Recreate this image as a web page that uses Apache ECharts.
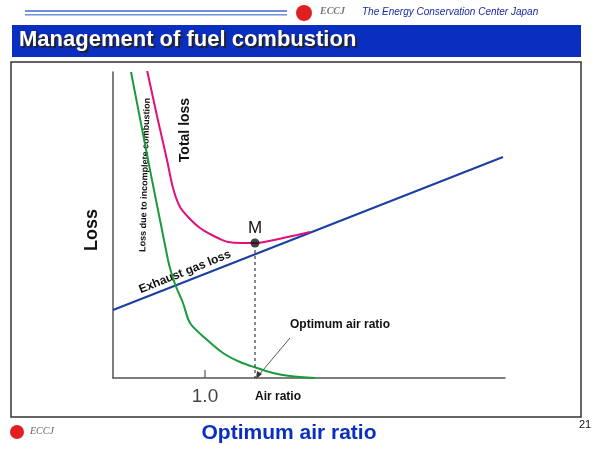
<!DOCTYPE html>
<html><head><meta charset="utf-8">
<script src="https://cdn.jsdelivr.net/npm/echarts@6/dist/echarts.min.js"></script>
<style>html,body{margin:0;padding:0;background:#fff}#c{width:600px;height:450px}</style>
</head><body><div id="c"></div>
<script>
// Data in chart units (x: air ratio scale, y: loss scale)
const exhaustLoss = [[0,68],[390,221]];
const incompleteLoss = [[18,306],[55,118],[62,94],[70,75],[77,55],[92,40],[110,25],[127,16],[144,10],[160,5],[177,2],[202,0]];
const totalLoss = [[34,308],[44,262],[54,218],[60,190],[67,171],[77,159],[87,150],[97,144],[107,139],[115,136],[128,135],[142,135],[156,137],[170,140],[184,143],[197,146]];
const optimumPoint = [[142,135]];
const optimumDrop = [[142,128],[142,0]];
const xTicks = [92];
const xTickLabels = ['1.0'];

const chart = echarts.init(document.getElementById('c'));
const F = 'Arial, Liberation Sans, sans-serif';
chart.setOption({
  animation:false,
  grid:{left:113,right:95,top:72,bottom:72},
  xAxis:{type:'value',min:0,max:392,axisLine:{lineStyle:{color:'#555',width:1.5}},axisTick:{show:false},splitLine:{show:false},
    axisLabel:{show:false}},
  yAxis:{type:'value',min:0,max:306,axisLine:{show:true,lineStyle:{color:'#555',width:1.5}},axisTick:{show:false},splitLine:{show:false},axisLabel:{show:false}},
  series:[
    {type:'line',data:exhaustLoss,showSymbol:false,lineStyle:{color:'#1a3fa0',width:2},z:3},
    {type:'line',data:incompleteLoss,showSymbol:false,smooth:0.3,lineStyle:{color:'#1a9a3a',width:2}},
    {type:'line',data:totalLoss,showSymbol:false,smooth:0.3,lineStyle:{color:'#e0107a',width:2}},
    {type:'line',data:optimumDrop,showSymbol:false,lineStyle:{color:'#111',width:1,type:[3,3]}},
    {type:'scatter',data:optimumPoint,symbolSize:9,itemStyle:{color:'#111'},z:5},
    {type:'scatter',data:xTicks.map(v=>[v,0]),symbol:'rect',symbolSize:[1.5,8],symbolOffset:[0,-4],itemStyle:{color:'#555'},
      label:{show:true,position:'bottom',offset:[0,4],formatter:(p)=>xTickLabels[p.dataIndex],fontSize:19,fontFamily:F,color:'#111'}}
  ],
  graphic:[
    {type:'rect',shape:{x:25,y:10,width:262,height:2},style:{fill:'#6f8fd8'}},
    {type:'rect',shape:{x:25,y:14,width:262,height:1.5},style:{fill:'#6f8fd8'}},
    {type:'circle',shape:{cx:304,cy:13,r:8},style:{fill:'#e02020'}},
    {type:'text',left:320,top:6,style:{text:'ECCJ',font:'italic bold 10px serif',fill:'#777'}},
    {type:'text',left:362,top:7,style:{text:'The Energy Conservation Center Japan',font:'italic 10px '+F,fill:'#1a2aa0'}},
    {type:'rect',shape:{x:12,y:25,width:569,height:32},style:{fill:'#0a2fc0'}},
    {type:'text',left:19,top:29,style:{text:'Management of fuel combustion',font:'bold 22px '+F,fill:'#fff',textShadowColor:'#222',textShadowOffsetX:2,textShadowOffsetY:2,textShadowBlur:1}},
    {type:'rect',shape:{x:11,y:62,width:570,height:355},style:{fill:'none',stroke:'#333',lineWidth:1.5}},
    {type:'text',x:92,y:230,rotation:Math.PI/2,style:{text:'Loss',font:'bold 18px '+F,fill:'#111',align:'center',verticalAlign:'middle'}},
    {type:'text',x:185,y:130,rotation:Math.PI/2,style:{text:'Total loss',font:'bold 14px '+F,fill:'#111',align:'center',verticalAlign:'middle'}},
    {type:'text',x:145,y:175,rotation:Math.PI/2-0.03,style:{text:'Loss due to incomplete combustion',font:'bold 9px '+F,fill:'#111',align:'center',verticalAlign:'middle'}},
    {type:'text',x:185,y:272,rotation:0.38,style:{text:'Exhaust gas loss',font:'bold 12px '+F,fill:'#111',align:'center',verticalAlign:'middle'}},
    {type:'text',x:255,y:228,style:{text:'M',font:'17px '+F,fill:'#111',align:'center',verticalAlign:'middle'}},
    {type:'text',x:340,y:325,style:{text:'Optimum air ratio',font:'bold 12px '+F,fill:'#111',align:'center',verticalAlign:'middle'}},
    {type:'line',shape:{x1:290,y1:338,x2:258,y2:376},style:{stroke:'#555',lineWidth:1}},
    {type:'polygon',shape:{points:[[256,379],[257,371],[262,374]]},style:{fill:'#333'}},
    {type:'text',x:278,y:397,style:{text:'Air ratio',font:'bold 12px '+F,fill:'#111',align:'center',verticalAlign:'middle'}},
    {type:'circle',shape:{cx:17,cy:432,r:7},style:{fill:'#e02020'}},
    {type:'text',left:30,top:426,style:{text:'ECCJ',font:'italic 10px serif',fill:'#666'}},
    {type:'text',x:289,y:433,style:{text:'Optimum air ratio',font:'bold 21px '+F,fill:'#0a2fc0',align:'center',verticalAlign:'middle'}},
    {type:'text',x:585,y:425,style:{text:'21',font:'11px '+F,fill:'#111',align:'center',verticalAlign:'middle'}}
  ]
});
</script></body></html>
